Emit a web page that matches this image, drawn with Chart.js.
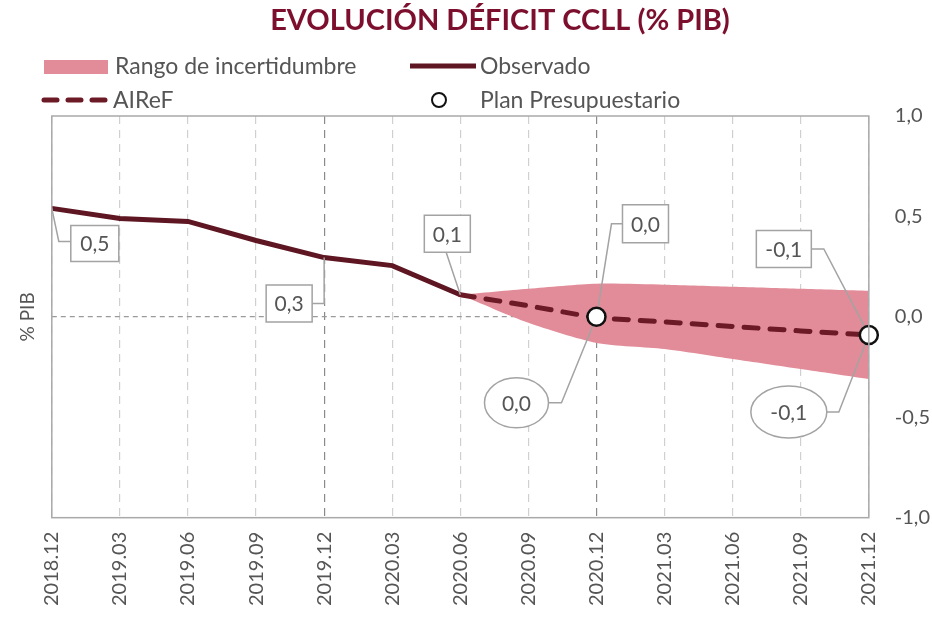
<!DOCTYPE html>
<html>
<head>
<meta charset="utf-8">
<script src="https://cdn.jsdelivr.net/npm/chart.js@4"></script>
<style>
  html, body { margin: 0; padding: 0; background: #fff; }
  #wrap { width: 932px; height: 617px; position: relative; }
</style>
</head>
<body>
<div id="wrap"><canvas id="deficitChart" width="932" height="617"></canvas></div>
<script>
// quarterly categories
const labels = ['2018.12', '2019.03', '2019.06', '2019.09', '2019.12', '2020.03', '2020.06',
                '2020.09', '2020.12', '2021.03', '2021.06', '2021.09', '2021.12'];

const observado = [0.54, 0.49, 0.475, 0.38, 0.295, 0.255, 0.11, null, null, null, null, null, null];
const airef = [null, null, null, null, null, null, 0.11, 0.055, -0.005, -0.025, -0.048, -0.07, -0.09];
const bandUpper = [null, null, null, null, null, null, 0.11, 0.14, 0.165, 0.16, 0.15, 0.14, 0.13];
const bandLower = [null, null, null, null, null, null, 0.11, -0.03, -0.13, -0.16, -0.21, -0.26, -0.31];
const plan = [null, null, null, null, null, null, null, null, 0.0, null, null, null, -0.09];

const yTicks = [-1, -0.5, 0, 0.5, 1];

const MAROON = '#5E1622';
const DASH_MAROON = '#6B1A26';
const BAND = '#E28C99';
const TEXT = '#555555';
const FONT = 'Lato';

function fmt(v) {
    return (Math.round(v * 10) / 10).toFixed(1).replace('.', ',');
}

// title + legend + plot frame
const decorPlugin = {
    id: 'decor',
    beforeDraw(chart) {
        const ctx = chart.ctx;
        ctx.save();
        ctx.fillStyle = '#7D0F2E';
        ctx.font = 'bold 29px ' + FONT;
        ctx.textAlign = 'center';
        ctx.textBaseline = 'middle';
        ctx.fillText('EVOLUCIÓN DÉFICIT CCLL (% PIB)', 500, 21);

        ctx.font = '23px ' + FONT;
        ctx.textAlign = 'left';
        ctx.fillStyle = BAND;
        ctx.fillRect(44, 60, 64, 14);
        ctx.fillStyle = TEXT;
        ctx.fillText('Rango de incertidumbre', 115, 67);

        ctx.strokeStyle = MAROON;
        ctx.lineWidth = 5;
        ctx.beginPath();
        ctx.moveTo(410, 66);
        ctx.lineTo(476, 66);
        ctx.stroke();
        ctx.fillText('Observado', 480, 67);

        ctx.strokeStyle = DASH_MAROON;
        ctx.lineCap = 'round';
        ctx.setLineDash([13, 11]);
        ctx.beginPath();
        ctx.moveTo(44, 100);
        ctx.lineTo(108, 100);
        ctx.stroke();
        ctx.setLineDash([]);
        ctx.lineCap = 'butt';
        ctx.fillText('AIReF', 113, 101);

        ctx.strokeStyle = '#111';
        ctx.lineWidth = 2;
        ctx.beginPath();
        ctx.arc(439, 100, 7, 0, Math.PI * 2);
        ctx.stroke();
        ctx.fillText('Plan Presupuestario', 480, 101);
        ctx.restore();
    },
    afterDraw(chart) {
        const a = chart.chartArea;
        const ctx = chart.ctx;
        ctx.save();
        ctx.strokeStyle = '#a9a9a9';
        ctx.lineWidth = 1.5;
        ctx.strokeRect(a.left, a.top, a.right - a.left, a.bottom - a.top);
        ctx.restore();
    }
};

// value callouts with leader lines, drawn before the plan circles
const calloutPlugin = {
    id: 'callouts',
    afterDatasetDraw(chart, args, opts) {
        if (args.index !== 1) return;
        const ctx = chart.ctx;
        const xs = chart.scales.x, ys = chart.scales.y;
        ctx.save();
        ctx.font = '21px ' + FONT;
        ctx.textAlign = 'center';
        ctx.textBaseline = 'middle';
        opts.items.forEach(it => {
            const v = chart.data.datasets[it.ds].data[it.i];
            const px = xs.getPixelForValue(it.i);
            const py = ys.getPixelForValue(v);
            ctx.strokeStyle = '#a3a3a3';
            ctx.lineWidth = 1.5;
            ctx.beginPath();
            ctx.moveTo(px, py);
            it.path.forEach(p => ctx.lineTo(px + p[0], py + p[1]));
            ctx.stroke();
            const cx = px + it.off[0], cy = py + it.off[1];
            ctx.fillStyle = '#fff';
            ctx.beginPath();
            if (it.shape === 'ellipse') {
                ctx.ellipse(cx, cy, it.w / 2, it.h / 2, 0, 0, Math.PI * 2);
            } else {
                ctx.rect(cx - it.w / 2, cy - it.h / 2, it.w, it.h);
            }
            ctx.fill();
            ctx.stroke();
            ctx.fillStyle = TEXT;
            ctx.fillText(fmt(v), cx, cy + 1);
        });
        ctx.restore();
    }
};

const ctx = document.getElementById('deficitChart').getContext('2d');

new Chart(ctx, {
    type: 'line',
    data: {
        labels: labels,
        datasets: [
            {
                label: 'Plan Presupuestario',
                data: plan,
                showLine: false,
                pointRadius: 9,
                pointBackgroundColor: '#fff',
                pointBorderColor: '#111',
                pointBorderWidth: 2.5
            },
            {
                label: 'AIReF',
                data: airef,
                borderColor: DASH_MAROON,
                borderWidth: 5,
                borderDash: [14, 12],
                borderCapStyle: 'round',
                pointRadius: 0,
                fill: false
            },
            {
                label: 'Observado',
                data: observado,
                borderColor: MAROON,
                borderWidth: 5,
                pointRadius: 0,
                fill: false
            },
            {
                label: 'Rango de incertidumbre',
                data: bandUpper,
                borderWidth: 0,
                borderColor: BAND,
                backgroundColor: BAND,
                pointRadius: 0,
                tension: 0.25,
                fill: '+1'
            },
            {
                label: 'lower',
                data: bandLower,
                borderWidth: 0,
                borderColor: BAND,
                pointRadius: 0,
                tension: 0.25,
                fill: false
            }
        ]
    },
    options: {
        responsive: false,
        animation: false,
        layout: {
            padding: { top: 116, left: 16, right: -24, bottom: -3 }
        },
        plugins: {
            legend: { display: false },
            title: { display: false },
            tooltip: { enabled: false },
            callouts: {
                items: [
                    { ds: 2, i: 0, shape: 'rect', off: [43, 35], w: 48, h: 36, path: [[7, 33], [19, 33]] },
                    { ds: 2, i: 4, shape: 'rect', off: [-35, 46], w: 46, h: 37, path: [[0, 46], [-12, 46]] },
                    { ds: 2, i: 6, shape: 'rect', off: [-13, -61], w: 46, h: 37, path: [[-14, -42]] },
                    { ds: 1, i: 8, shape: 'rect', off: [49, -94], w: 46, h: 38, path: [[15, -94], [26, -94]] },
                    { ds: 0, i: 8, shape: 'ellipse', off: [-80, 86], w: 64, h: 50, path: [[-35, 86], [-48, 86]] },
                    { ds: 0, i: 12, shape: 'rect', off: [-85, -86], w: 55, h: 37, path: [[-45, -86], [-57, -86]] },
                    { ds: 0, i: 12, shape: 'ellipse', off: [-80, 77], w: 76, h: 52, path: [[-30, 77], [-42, 77]] }
                ]
            }
        },
        scales: {
            x: {
                type: 'category',
                offset: false,
                grid: {
                    drawTicks: false,
                    lineWidth: 1.2,
                    color: c => (c.index === 4 || c.index === 8) ? '#8a8a8a' : '#d0d0d0'
                },
                border: { display: false, dash: [8, 6] },
                ticks: {
                    autoSkip: false,
                    minRotation: 90,
                    maxRotation: 90,
                    padding: 14,
                    color: TEXT,
                    font: { family: FONT, size: 20 }
                }
            },
            y: {
                position: 'right',
                min: -1,
                max: 1,
                afterBuildTicks: axis => { axis.ticks = yTicks.map(v => ({ value: v })); },
                grid: {
                    drawTicks: false,
                    lineWidth: 1.2,
                    color: c => (c.tick && c.tick.value === 0) ? '#9a9a9a' : 'rgba(0,0,0,0)'
                },
                border: { display: false, dash: [5, 4] },
                ticks: {
                    padding: 26,
                    color: TEXT,
                    font: { family: FONT, size: 20 },
                    callback: v => fmt(v)
                }
            },
            yl: {
                position: 'left',
                min: -1,
                max: 1,
                grid: { display: false },
                border: { display: false },
                ticks: { display: false },
                title: {
                    display: true,
                    text: '% PIB',
                    color: TEXT,
                    font: { family: FONT, size: 19 },
                    padding: { top: 0, bottom: 5 }
                }
            }
        }
    },
    plugins: [decorPlugin, calloutPlugin]
});
</script>
</body>
</html>
